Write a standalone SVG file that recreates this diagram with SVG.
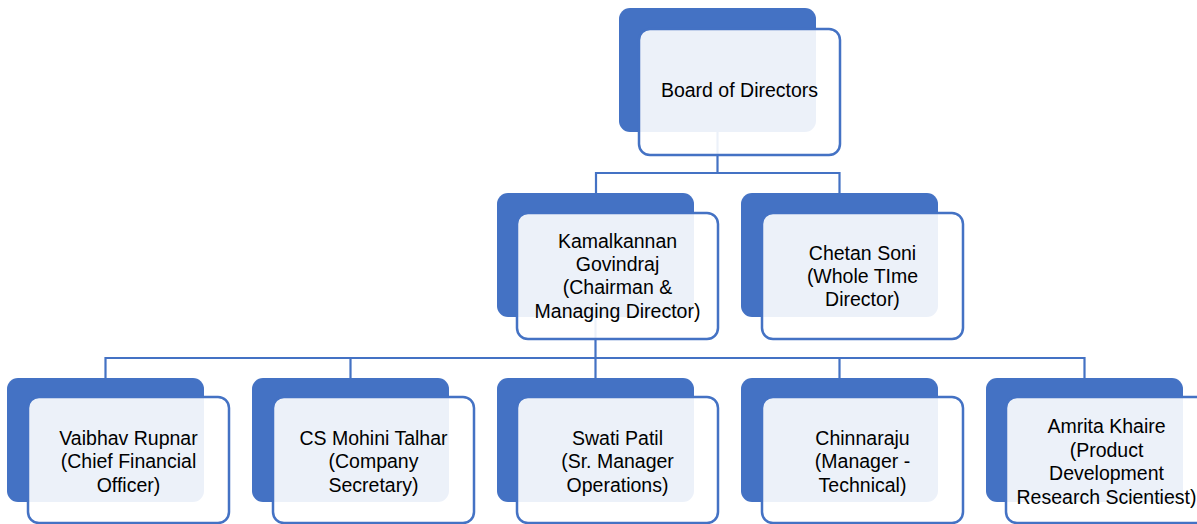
<svg xmlns="http://www.w3.org/2000/svg" width="1197" height="524" viewBox="0 0 1197 524">
<style>
.bg{fill:#4472C4}
.fg{fill:#ffffff;fill-opacity:0.9;stroke:#4472C4;stroke-width:2.5}
.ln{fill:none;stroke:#4472C4;stroke-width:2.2}
text{font-family:"Liberation Sans",Arial,sans-serif;font-size:19.5px;fill:#000;text-anchor:middle}
</style>
<rect width="1197" height="524" fill="#ffffff"/>
<g id="connectors">
<path class="ln" d="M717.5 132V173M596 173H839.5M596 172V193M839.5 172V193"/>
<path class="ln" d="M595.5 317V358M105.5 358H1084.5M105.5 357V378M350.5 357V378M595.5 357V378M839.5 357V378M1084.5 357V378"/>
</g>
<g id="board">
<rect class="bg" x="619" y="8" width="197" height="124" rx="11"/>
<rect class="fg" x="639" y="29" width="201" height="126" rx="11"/>
<text x="739.5" y="97">Board of Directors</text>
</g>
<g id="kamalkannan">
<rect class="bg" x="497" y="193" width="197" height="124" rx="11"/>
<rect class="fg" x="517" y="213" width="201" height="126" rx="11"/>
<text x="617.5" y="248">Kamalkannan</text>
<text x="617.5" y="271">Govindraj</text>
<text x="617.5" y="294">(Chairman &amp;</text>
<text x="617.5" y="318">Managing Director)</text>
</g>
<g id="chetan">
<rect class="bg" x="741" y="193" width="197" height="124" rx="11"/>
<rect class="fg" x="762" y="213" width="201" height="126" rx="11"/>
<text x="862.5" y="260">Chetan Soni</text>
<text x="862.5" y="283">(Whole TIme</text>
<text x="862.5" y="306">Director)</text>
</g>
<g id="vaibhav">
<rect class="bg" x="7" y="378" width="197" height="124" rx="11"/>
<rect class="fg" x="28" y="397" width="201" height="126" rx="11"/>
<text x="128.5" y="445">Vaibhav Rupnar</text>
<text x="128.5" y="468">(Chief Financial</text>
<text x="128.5" y="492">Officer)</text>
</g>
<g id="mohini">
<rect class="bg" x="252" y="378" width="197" height="124" rx="11"/>
<rect class="fg" x="273" y="397" width="201" height="126" rx="11"/>
<text x="373.5" y="445">CS Mohini Talhar</text>
<text x="373.5" y="468">(Company</text>
<text x="373.5" y="492">Secretary)</text>
</g>
<g id="swati">
<rect class="bg" x="497" y="378" width="197" height="124" rx="11"/>
<rect class="fg" x="517" y="397" width="201" height="126" rx="11"/>
<text x="617.5" y="445">Swati Patil</text>
<text x="617.5" y="468">(Sr. Manager</text>
<text x="617.5" y="492">Operations)</text>
</g>
<g id="chinnaraju">
<rect class="bg" x="741" y="378" width="197" height="124" rx="11"/>
<rect class="fg" x="762" y="397" width="201" height="126" rx="11"/>
<text x="862.5" y="445">Chinnaraju</text>
<text x="862.5" y="468">(Manager -</text>
<text x="862.5" y="492">Technical)</text>
</g>
<g id="amrita">
<rect class="bg" x="986" y="378" width="197" height="124" rx="11"/>
<rect class="fg" x="1006" y="397" width="201" height="126" rx="11"/>
<text x="1106.5" y="433">Amrita Khaire</text>
<text x="1106.5" y="457">(Product</text>
<text x="1106.5" y="480">Development</text>
<text x="1106.5" y="504">Research Scientiest)</text>
</g>
</svg>
